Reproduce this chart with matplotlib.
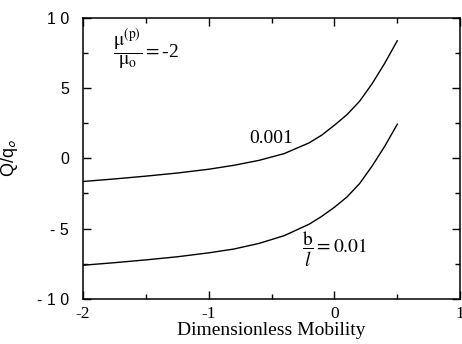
import numpy as np
import matplotlib
matplotlib.use('Agg')
import matplotlib.pyplot as plt
from matplotlib.ticker import MultipleLocator, FixedLocator, FixedFormatter

plt.rcParams.update({
    'font.family': 'serif',
    'font.serif': ['Liberation Serif', 'DejaVu Serif'],
    'mathtext.fontset': 'stix',
    'axes.linewidth': 1.1,
})

# --- data ---
mobility = [-2.0, -1.75, -1.5, -1.25, -1.0, -0.8, -0.6, -0.4, -0.2, -0.1, 0.0, 0.1, 0.2, 0.3, 0.4, 0.5]
q_b001 = [-1.65, -1.47, -1.27, -1.05, -0.78, -0.5, -0.15, 0.33, 1.1, 1.65, 2.35, 3.1, 4.05, 5.3, 6.75, 8.35]
q_b01 = [-7.6, -7.42, -7.22, -7.0, -6.72, -6.45, -6.05, -5.5, -4.68, -4.12, -3.48, -2.75, -1.8, -0.55, 0.85, 2.42]

ytick_vals = [-10, -5, 0, 5, 10]
ytick_text = ['- 1 0', '- 5', '0', '5', '1 0']
xtick_vals = [-2, -1, 0, 1]
xtick_text = ['-2', '-1', '0', '1']

fig = plt.figure(figsize=(4.62, 3.44), dpi=100)
ax = fig.add_axes([0.1797, 0.1308, 0.8163, 0.8183])

ax.plot(mobility, q_b001, color='black', linewidth=1.0)
ax.plot(mobility, q_b01, color='black', linewidth=1.0)

ax.set_xlim(-2, 1)
ax.set_ylim(-10, 10)

ax.xaxis.set_major_locator(FixedLocator(xtick_vals))
ax.xaxis.set_major_formatter(FixedFormatter(xtick_text))
ax.xaxis.set_minor_locator(MultipleLocator(0.5))
ax.yaxis.set_major_locator(FixedLocator(ytick_vals))
ax.yaxis.set_major_formatter(FixedFormatter(ytick_text))
ax.yaxis.set_minor_locator(MultipleLocator(2.5))

ax.tick_params(which='both', direction='in', top=True, right=True, width=1.0)
ax.tick_params(which='major', length=6)
ax.tick_params(which='minor', length=3.5)
ax.tick_params(axis='x', labelsize=12.5, pad=5)
ax.tick_params(axis='y', labelsize=11.5, pad=10)
for lbl in ax.get_yticklabels():
    lbl.set_family('Liberation Sans')

ax.set_xlabel('Dimensionless Mobility', fontsize=14, labelpad=0)
ax.set_ylabel(r'Q/q$_{\mathsf{o}}$', fontsize=13, family='Liberation Sans', labelpad=12)

ax.text(-1.5, 7.7, r'$\dfrac{\mathrm{\mu}^{(\mathrm{p})}}{\mathrm{\mu}_\mathrm{o}} = $-2', fontsize=14,
        ha='center', va='center')
ax.text(-0.5, 1.42, '0.001', fontsize=14, ha='center', va='center')
ax.text(0.0, -6.47, r'$\dfrac{\mathrm{b}}{l} = \mathrm{0.01}$', fontsize=14,
        ha='center', va='center')

fig.savefig('out.png', dpi=100)
